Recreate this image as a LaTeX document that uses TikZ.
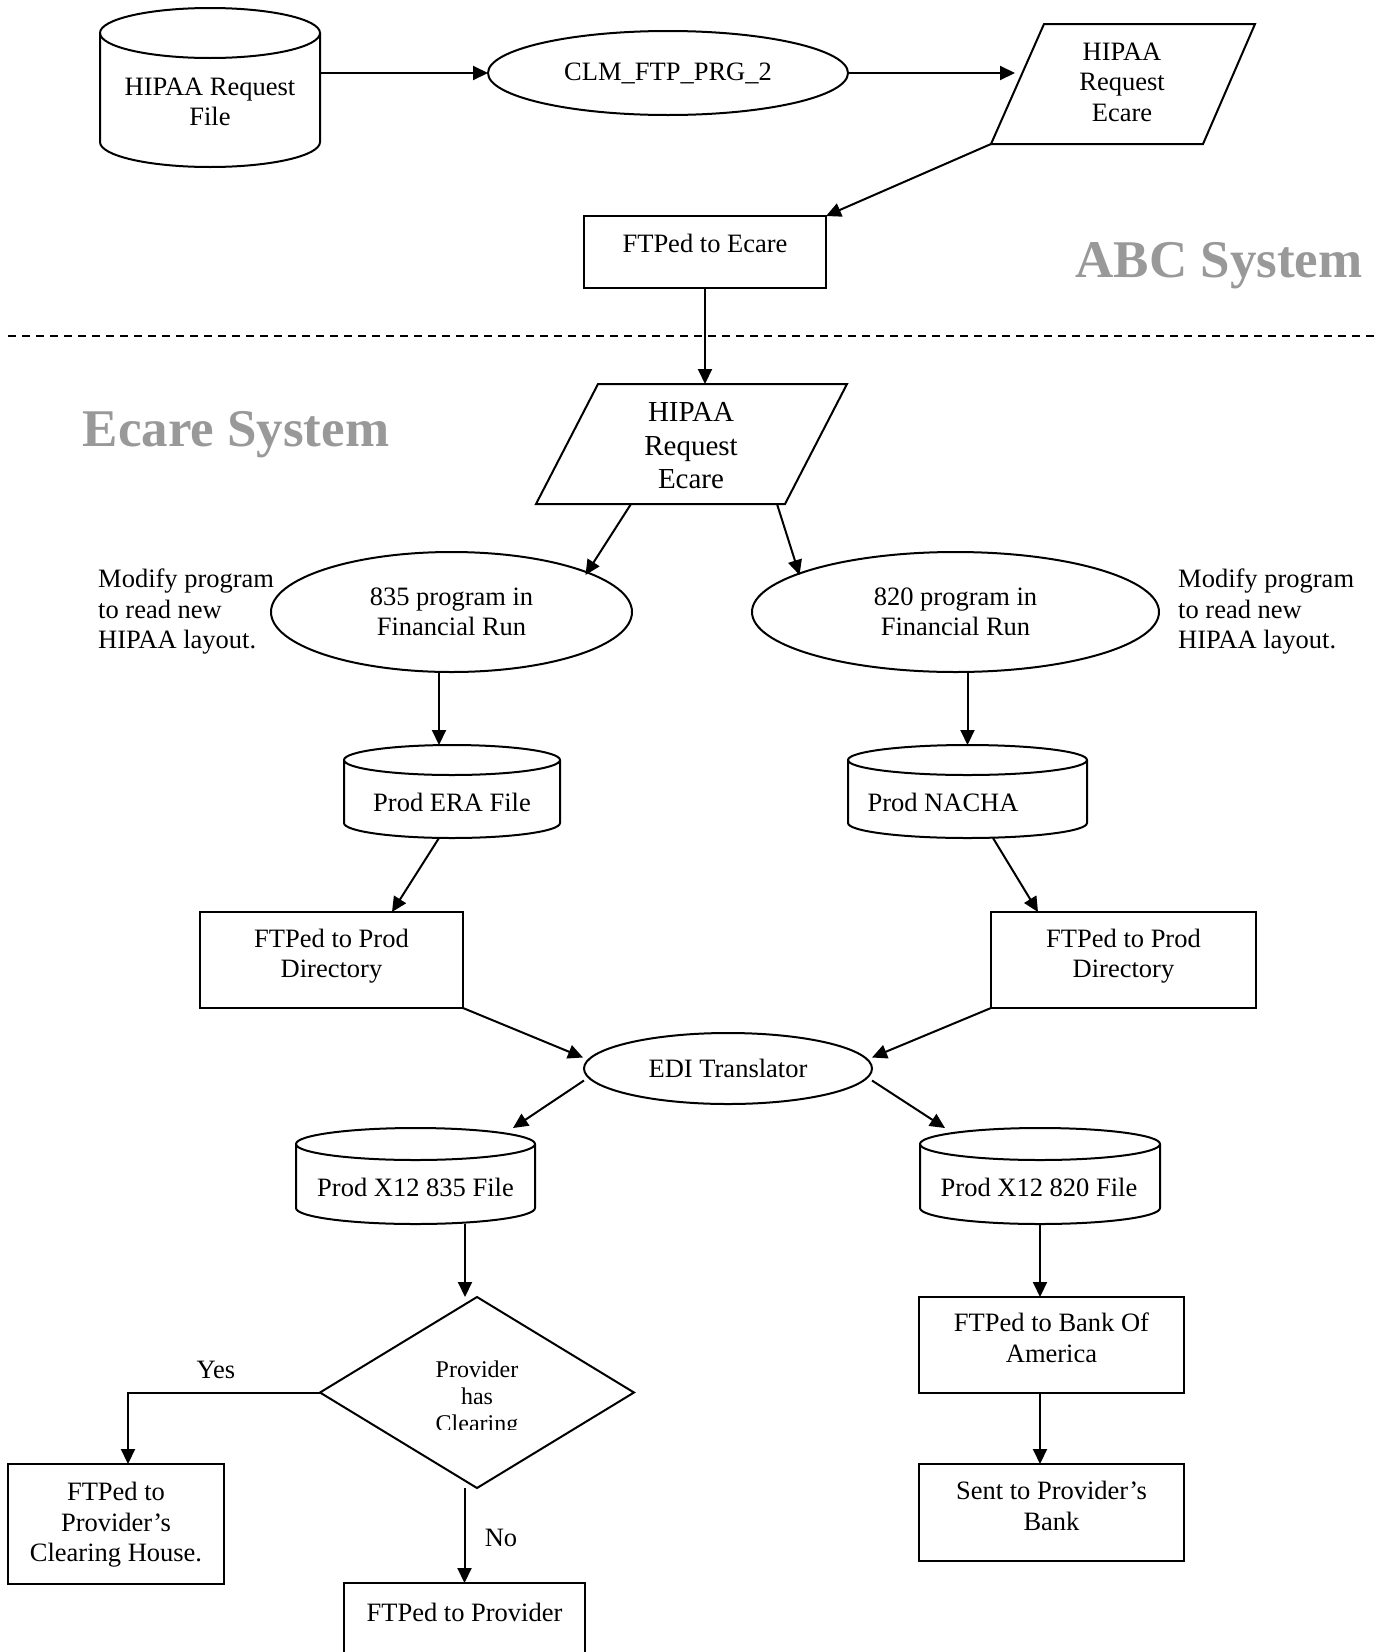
\documentclass[tikz,border=0pt]{standalone}
\usepackage{fontspec}
\setmainfont{Liberation Serif}
\usetikzlibrary{arrows.meta,shapes.geometric,calc}
\definecolor{titlegray}{RGB}{153,153,153}
\newcommand\normsz{\fontsize{26.5}{30.5}\selectfont}
\newcommand\bigsz{\fontsize{29}{33.5}\selectfont}
\newcommand\diasz{\fontsize{24}{27}\selectfont}
\newcommand\titlesz{\fontsize{53}{60}\selectfont\bfseries}
\newcommand\drawcyl[3]{%
  \draw[ln] ($(#1.north)+(0,#3)$) ellipse [x radius=#2pt, y radius=#3pt];
  \draw[ln] ($(#1.north west)+(0,#3)$) -- ($(#1.south west)+(0,-#3)$)
     arc[start angle=180, end angle=360, x radius=#2pt, y radius=#3pt]
     -- ($(#1.north east)+(0,#3)$);
}
\begin{document}
\begin{tikzpicture}[x=1pt, y=-1pt,
  ln/.style={line width=2pt},
  arr/.style={line width=2pt, -{Triangle[length=15pt,width=14pt]}},
  boxshape/.style={draw, rectangle, line width=2pt, inner sep=0pt, outer sep=0pt},
  cylbox/.style={rectangle, inner sep=0pt, outer sep=0pt},
  ellshape/.style={draw, ellipse, line width=2pt, inner sep=0pt, outer sep=0pt, align=center, font=\normsz},
  txt/.style={align=center, inner sep=0pt, font=\normsz},
  systitle/.style={anchor=base, inner sep=0pt, font=\titlesz, text=titlegray},
]
\useasboundingbox (0,0) rectangle (1379,1652);
\fill[white] (0,0) rectangle (1379,1652);

% ---------- ABC system ----------
\node[cylbox, minimum width=220pt, minimum height=159pt] (cyl1) at (210,87.5) {};
\drawcyl{cyl1}{110}{25}
\node[txt] (cyl1t) at (210,102) {HIPAA Request\\File};

\node[ellshape, minimum width=360pt, minimum height=84pt] (clm) at (668,73) {CLM\_FTP\_PRG\_2};

\draw[ln] (991,144) -- (1044,24) -- (1255,24) -- (1203,144) -- cycle;
\coordinate (p1sw) at (991,144);
\coordinate (p1in) at (1015,73);
\node[txt] (p1) at (1122,82) {HIPAA\\Request\\Ecare};

\node[boxshape, minimum width=242pt, minimum height=72pt] (box1) at (705,252) {};
\node[txt] (box1t) at (705,243) {FTPed to Ecare};

\node[systitle] (abc) at (1219,277) {ABC System};

\draw[line width=1.6pt, dash pattern=on 8pt off 6pt] (8,336) -- (1379,336);

% ---------- Ecare system ----------
\draw[ln] (536,504) -- (598,384) -- (847,384) -- (785,504) -- cycle;
\coordinate (p2n) at (705,384);
\coordinate (p2l) at (631,504);
\coordinate (p2r) at (777,504);
\node[txt, font=\bigsz] (p2) at (691,446) {HIPAA\\Request\\Ecare};

\node[systitle] (ecs) at (236,446) {Ecare System};

\node[ellshape, minimum width=361pt, minimum height=120pt] (e835) at (451.5,612) {835 program in\\Financial Run};
\node[ellshape, minimum width=407pt, minimum height=120pt] (e820) at (955.5,612) {820 program in\\Financial Run};
\node[txt, align=left, anchor=west] (modl) at (98,612) {Modify program\\to read new\\HIPAA layout.};
\node[txt, align=left, anchor=west] (modr) at (1178,612) {Modify program\\to read new\\HIPAA layout.};

\node[cylbox, minimum width=216pt, minimum height=93pt] (era) at (452,791.5) {};
\drawcyl{era}{108}{15}
\node[txt] (erat) at (452,802) {Prod ERA File};
\node[cylbox, minimum width=239pt, minimum height=93pt] (nacha) at (967.5,791.5) {};
\drawcyl{nacha}{119.5}{15}
\node[txt] (nachat) at (943,802) {Prod NACHA};

\node[boxshape, minimum width=263pt, minimum height=96pt] (boxL) at (331.5,960) {};
\node[txt] (boxLt) at (331.5,956) {FTPed to Prod\\Directory};
\node[boxshape, minimum width=265pt, minimum height=96pt] (boxR) at (1123.5,960) {};
\node[txt] (boxRt) at (1123.5,956) {FTPed to Prod\\Directory};

\node[ellshape, minimum width=288pt, minimum height=71pt] (edi) at (728,1068.5) {EDI Translator};

\node[cylbox, minimum width=239pt, minimum height=96pt] (x835) at (415.5,1176) {};
\drawcyl{x835}{119.5}{16}
\node[txt] (x835t) at (415.5,1187) {Prod X12 835 File};
\node[cylbox, minimum width=240pt, minimum height=96pt] (x820) at (1040,1176) {};
\drawcyl{x820}{120}{16}
\node[txt] (x820t) at (1039,1187) {Prod X12 820 File};

\node[draw, diamond, line width=2pt, minimum width=314pt, minimum height=191pt, inner sep=0pt, outer sep=0pt] (dia) at (477,1392.5) {};
\begin{scope}
\clip (330,1340) rectangle (630,1429);
\node[txt, font=\diasz] (diat) at (477,1399) {Provider\\has\\Clearing};
\end{scope}

\node[boxshape, minimum width=216pt, minimum height=120pt] (boxch) at (116,1524) {};
\node[txt] (boxcht) at (116,1525) {FTPed to\\Provider’s\\Clearing House.};
\node[boxshape, minimum width=241pt, minimum height=117pt] (boxp) at (464.5,1641.5) {};
\node[txt] (boxpt) at (464.5,1612) {FTPed to Provider};

\node[boxshape, minimum width=265pt, minimum height=96pt] (bofa) at (1051.5,1345) {};
\node[txt] (bofat) at (1051.5,1338) {FTPed to Bank Of\\America};
\node[boxshape, minimum width=265pt, minimum height=97pt] (sent) at (1051.5,1512.5) {};
\node[txt] (sentt) at (1051.5,1506) {Sent to Provider’s\\Bank};

\node[txt] (yes) at (216,1370) {Yes};
\node[txt] (no) at (501,1538) {No};

% ---------- connectors ----------
\draw[arr] (cyl1.east |- clm) -- (clm.west);
\draw[arr] (clm.east) -- (p1in);
\draw[arr] (p1sw) -- (box1.north east);
\draw[arr] (box1.south) -- (p2n);
\draw[arr] (p2l) -- ($(e835)+(134,-37)$);
\draw[arr] (p2r) -- ($(e820)+(-156,-37)$);
\draw[arr] ([xshift=-12.5pt]e835.south) -- ([xshift=-12.5pt]e835.south |- era.north);
\draw[arr] (e820.south -| nacha.north) -- (nacha.north);
\draw[arr] ([xshift=-13pt]era.south) -- ([xshift=60.5pt]boxL.north);
\draw[arr] ([xshift=25.5pt]nacha.south) -- ([xshift=-85.5pt]boxR.north);
\draw[arr] (boxL.south east) -- ($(edi)+(-145,-11)$);
\draw[arr] (boxR.south west) -- ($(edi)+(144,-11)$);
\draw[arr] ($(edi)+(-144,12)$) -- ([xshift=97.5pt]x835.north);
\draw[arr] ($(edi)+(144,12)$) -- ([xshift=-95pt]x820.north);
\draw[arr] ([xshift=49.5pt]x835.south) -- ([xshift=-12pt]dia.north);
\draw[arr] (x820.south) -- (x820.south |- bofa.north);
\draw[arr] (dia.west) -| ([xshift=12pt]boxch.north);
\draw[arr] (dia.south -| boxp.north) -- (boxp.north);
\draw[arr] (x820.south |- bofa.south) -- (x820.south |- sent.north);
\end{tikzpicture}
\end{document}
